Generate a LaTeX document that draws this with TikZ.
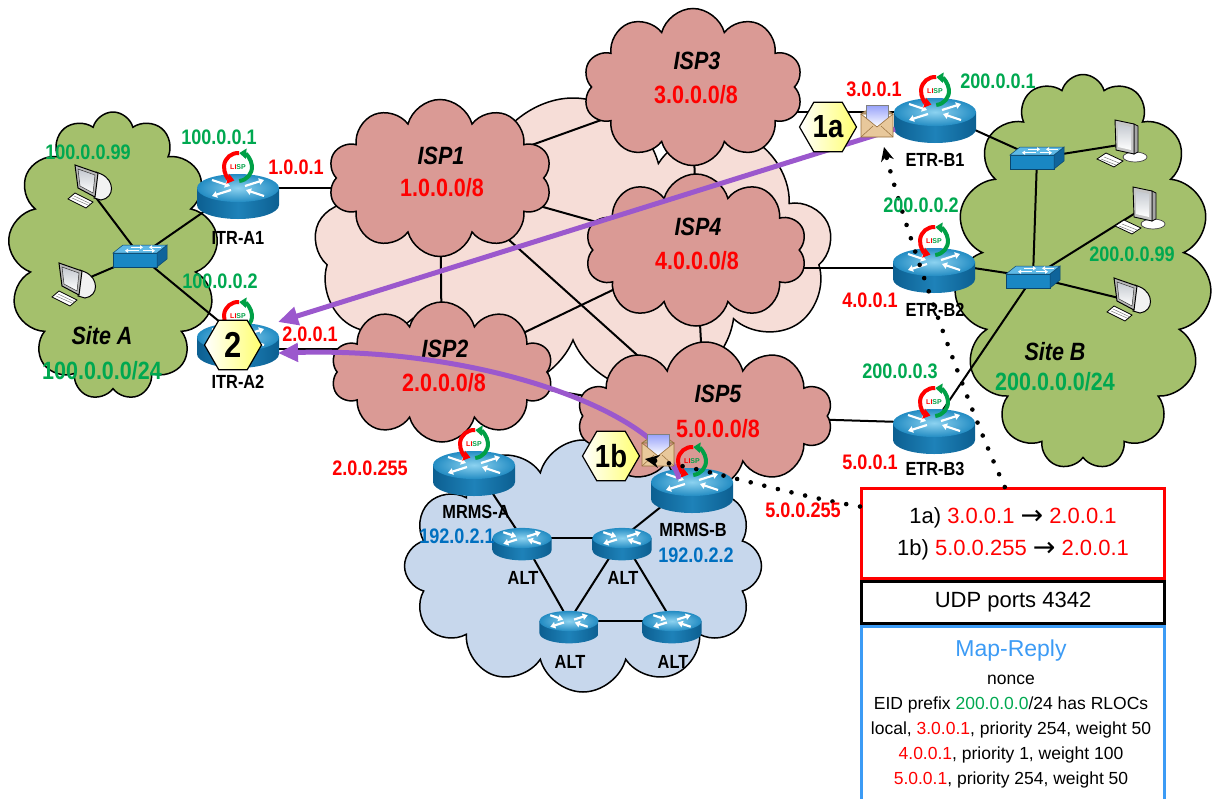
\documentclass[tikz,border=0pt]{standalone}
\usepackage{fontspec}
\setmainfont{Liberation Sans}
\newfontfamily\narr{Liberation Sans}[FakeStretch=0.86]
\newfontfamily\arrowfont{DejaVu Sans}
\usetikzlibrary{shapes.symbols,shapes.geometric,arrows.meta,calc}

\definecolor{sitegreen}{RGB}{164,192,108}
\definecolor{ispred}{RGB}{218,154,149}
\definecolor{corepink}{RGB}{246,221,215}
\definecolor{altblue}{RGB}{199,215,236}
\definecolor{ipgreen}{RGB}{0,168,80}
\definecolor{ipblue}{RGB}{0,112,192}
\definecolor{replyblue}{RGB}{60,155,245}
\definecolor{flowpurple}{RGB}{155,88,205}
\definecolor{rtop}{RGB}{35,140,195}
\definecolor{rtopin}{RGB}{140,210,240}
\definecolor{rside}{RGB}{12,95,145}
\definecolor{rsidemid}{RGB}{30,130,185}
\definecolor{swtop}{RGB}{95,185,230}
\definecolor{swfront}{RGB}{25,135,195}
\definecolor{swside}{RGB}{15,100,155}
\definecolor{swdark}{RGB}{10,70,110}
\definecolor{envbody}{RGB}{232,200,155}
\definecolor{envline}{RGB}{150,110,60}
\definecolor{letterblue}{RGB}{215,230,248}
\definecolor{lispgreen}{RGB}{0,160,70}
\definecolor{hexyellow}{RGB}{255,255,110}
\definecolor{screen}{RGB}{225,232,242}

\newcommand\toarrow{\raisebox{-1.5pt}{\arrowfont\fontsize{27}{27}\selectfont →}}

\tikzset{
  cloudbase/.style={cloud, cloud ignores aspect, draw=black, line width=1.5pt, inner sep=0pt},
  link/.style={line width=2pt, draw=black},
  rarrow/.style={white, line width=2.2pt, -{Triangle[length=5pt,width=6.5pt]}},
  swarrow/.style={white, line width=1.1pt, -{Triangle[length=3pt,width=4pt]}},
  iplbl/.style={font=\narr\bfseries\fontsize{21}{22}\selectfont, inner sep=0pt},
  greenlbl/.style={iplbl, text=ipgreen},
  redlbl/.style={iplbl, text=red},
  bluelbl/.style={iplbl, text=ipblue},
  namelbl/.style={font=\narr\bfseries\fontsize{19}{20}\selectfont, inner sep=0pt},
  isplbl/.style={font=\narr\bfseries\itshape\fontsize{25}{26}\selectfont, inner sep=0pt},
  ispnet/.style={font=\narr\bfseries\fontsize{25}{26}\selectfont, text=red, inner sep=0pt},
  sitenet/.style={font=\narr\bfseries\fontsize{25}{26}\selectfont, text=ipgreen, inner sep=0pt},
  hexa/.style={regular polygon, regular polygon sides=6, draw=black, line width=1.2pt,
    left color=white, right color=hexyellow, inner sep=0pt, minimum size=57pt,
    font=\narr\bfseries\fontsize{32}{32}\selectfont},
  flow/.style={flowpurple, line width=5pt, -{Triangle[length=20pt,width=18pt]}},
  dotflow/.style={black, line width=4.6pt, dash pattern=on 0pt off 14pt, line cap=round,
    -{Stealth[length=14pt,width=13pt]}},
  boxtxt/.style={font=\fontsize{22}{32}\selectfont, align=center, inner sep=0pt},
  replytxt/.style={font=\fontsize{17.5}{20}\selectfont, inner sep=0pt},
  pics/router/.style={code={
    \shade[left color=rside, right color=rside, middle color=rsidemid]
      (-41,0) -- (-41,17) arc[start angle=180,end angle=0,x radius=41,y radius=14] -- (41,0) -- cycle;
    \shade[inner color=rtopin, outer color=rtop] (0,0) ellipse[x radius=41,y radius=14];
    \draw[rarrow] (-26,-8) -- (-8,-2);
    \draw[rarrow] (26,8) -- (8,2);
    \draw[rarrow] (7,-2) -- (26,-8);
    \draw[rarrow] (-7,2) -- (-26,8);
  }},
  pics/lisp/.style={code={
    \draw[red, line width=4pt, -{Triangle[length=7pt,width=10pt]}]
      (275:14) arc[start angle=275,end angle=105,radius=14];
    \draw[lispgreen, line width=4pt, -{Triangle[length=7pt,width=10pt]}]
      (85:14) arc[start angle=85,end angle=-85,radius=14];
    \node[font=\bfseries\fontsize{7}{7}\selectfont, inner sep=0pt]
      {\textcolor{red}{LI}\textcolor{lispgreen}{SP}};
  }},
  pics/lisprouter/.style={code={
    \pic {router};
    \pic at (0,-21) {lisp};
  }},
  pics/switch/.style={code={
    \filldraw[fill=swfront, draw=swdark, line width=0.5pt] (-27,-3) -- (17,-3) -- (17,11) -- (-27,11) -- cycle;
    \filldraw[fill=swside, draw=swdark, line width=0.5pt] (17,-3) -- (27,-11) -- (27,3) -- (17,11) -- cycle;
    \filldraw[fill=swtop, draw=swdark, line width=0.5pt] (-27,-3) -- (-17,-11) -- (27,-11) -- (17,-3) -- cycle;
    \draw[swarrow] (-9,-8.7) -- (3,-8.7);
    \draw[swarrow] (21,-8.7) -- (9,-8.7);
    \draw[swarrow] (-1,-5.3) -- (-15,-5.3);
    \draw[swarrow] (3,-5.3) -- (15,-5.3);
  }},
  % desktop with a tube monitor
  pics/crthost/.style={code={
    \filldraw[fill=white, draw=black, line width=0.8pt] (-20,12) -- (-13,6) -- (5,15) -- (-2,21) -- cycle;
    \draw[gray, line width=0.5pt] (-16,11) -- (0,18) (-14,9) -- (2,16.5);
    \filldraw[fill=gray!10, draw=black, line width=1pt]
      (8,-15) -- (13,-13) .. controls (27,-7) and (27,11) .. (13,13) -- (6,11) -- cycle;
    \filldraw[fill=gray!55, draw=black, line width=1pt] (-13,-22) -- (10,-14) -- (7,10) -- (-10,1) -- cycle;
    \shade[top color=screen!70!gray, bottom color=white] (-10,-18) -- (7,-12) -- (5,6) -- (-8,-1) -- cycle;
    \draw[gray!40!black, line width=0.5pt] (-10,-18) -- (7,-12) -- (5,6) -- (-8,-1) -- cycle;
  }},
  % desktop with a flat panel
  pics/lcdhost/.style={code={
    \filldraw[fill=white, draw=gray!50!black, line width=0.7pt] (16,12) ellipse[x radius=12,y radius=5];
    \filldraw[fill=white, draw=black, line width=0.8pt] (-22,14) -- (-13,8) -- (4,16) -- (-5,22) -- cycle;
    \draw[gray, line width=0.5pt] (-18,14) -- (-3,20) (-15,12) -- (0,18);
    \filldraw[fill=gray!70, draw=black, line width=0.8pt] (15,-21) -- (19,-19) -- (19,7) -- (15,9) -- cycle;
    \filldraw[fill=gray!45, draw=black, line width=0.9pt] (-4,-25) -- (15,-21) -- (15,9) -- (-3,5) -- cycle;
    \shade[top color=screen!70!gray, bottom color=white] (-1,-21) -- (12,-18) -- (12,5) -- (-1,2) -- cycle;
  }},
  pics/envelope/.style={code={
    \filldraw[fill=envbody!80!black, draw=envline, line width=0.6pt] (-16,-11) -- (-12,-14) -- (12,-14) -- (16,-11) -- cycle;
    \shade[top color=letterblue!70!blue, bottom color=white] (-11,-20) rectangle (11,2);
    \draw[gray, line width=0.5pt] (-11,-20) rectangle (11,2);
    \filldraw[fill=envbody, draw=envline, line width=0.6pt] (-16,-11) -- (0,2) -- (16,-11) -- (16,12) -- (-16,12) -- cycle;
    \draw[envline, line width=0.5pt] (-16,12) -- (-4,1) (16,12) -- (4,1);
  }},
}

\begin{document}
\begin{tikzpicture}[x=1pt,y=-1pt]
\useasboundingbox (0,0) rectangle (1214,798);

% ---------- background clouds ----------
\node[cloudbase, fill=sitegreen, cloud puffs=13, minimum width=210pt, minimum height=288pt] (siteA) at (113,256) {};
\node[cloudbase, fill=sitegreen, cloud puffs=15, minimum width=257pt, minimum height=395pt] (siteB) at (1083,272) {};
\node[cloudbase, fill=altblue, cloud puffs=12, minimum width=357pt, minimum height=252pt] (altcloud) at (583,566) {};
\node[cloudbase, fill=corepink, cloud puffs=9, minimum width=517pt, minimum height=302pt] (core) at (573,249) {};

% ---------- positions ----------
\coordinate (isp1) at (440,178);
\coordinate (isp2) at (442,372);
\coordinate (isp3) at (693,87);
\coordinate (isp4) at (696,250);
\coordinate (isp5) at (705,416);

\coordinate (itra1) at (238,188);
\coordinate (itra2) at (238,337);
\coordinate (etrb1) at (935,112);
\coordinate (etrb2) at (934,262);
\coordinate (etrb3) at (934,423);
\coordinate (mrmsa) at (474,465);
\coordinate (mrmsb) at (692,482);
\coordinate (alt1) at (522,538);
\coordinate (alt2) at (622,538);
\coordinate (alt3) at (569,621);
\coordinate (alt4) at (672,621);

\coordinate (swA) at (140,256);
\coordinate (swB1) at (1037,158);
\coordinate (swB2) at (1033,277);
\coordinate (hA1) at (88,187);
\coordinate (hA2) at (72,285);
\coordinate (hB1) at (1119,145);
\coordinate (hB2) at (1137,212);
\coordinate (hB3) at (1127,300);

% ---------- links ----------
\draw[link] (isp1) -- (isp3);
\draw[link] (isp1) -- (isp4);
\draw[link] (isp1) -- (isp5);
\draw[link] (isp1) -- (isp2);
\draw[link] (isp2) -- (isp4);
\draw[link] (isp3) -- (isp4);
\draw[link] (isp4) -- (isp5);
\draw[link] (isp2) -- (isp5);

\draw[link] (itra1) -- (itra1 -| isp1);
\draw[link] ($(itra2)+(0,12)$) -- ($(itra2 -| isp2)+(0,12)$);
\draw[link] (etrb1) -- (etrb1 -| isp3);
\draw[link] ($(etrb2)+(0,6)$) -- ($(etrb2 -| isp4)+(0,6)$);
\draw[link] (etrb3) -- (isp5);

\draw[link] (hA1) -- (swA);
\draw[link] (hA2) -- (swA);
\draw[link] (swA) -- (itra1);
\draw[link] (swA) -- (itra2);

\draw[link] (etrb1) -- (swB1);
\draw[link] (swB1) -- (hB1);
\draw[link] (swB1) -- (swB2);
\draw[link] (swB2) -- (hB2);
\draw[link] (swB2) -- (hB3);
\draw[link] (etrb2) -- (swB2);
\draw[link] (swB2) -- (etrb3);

\draw[link] (mrmsa) -- (alt1);
\draw[link] (alt1) -- (alt2);
\draw[link] (mrmsb) -- (alt2);
\draw[link] (alt1) -- (alt3);
\draw[link] (alt2) -- (alt3);
\draw[link] (alt2) -- (alt4);
\draw[link] (alt3) -- (alt4);

% ---------- provider clouds ----------
\node[cloudbase, fill=ispred, cloud puffs=10, minimum width=224pt, minimum height=157pt] (isp1cloud) at (isp1) {};
\node[cloudbase, fill=ispred, cloud puffs=10, minimum width=222pt, minimum height=140pt] (isp2cloud) at (isp2) {};
\node[cloudbase, fill=ispred, cloud puffs=10, minimum width=220pt, minimum height=157pt] (isp3cloud) at (isp3) {};
\node[cloudbase, fill=ispred, cloud puffs=10, minimum width=222pt, minimum height=152pt] (isp4cloud) at (isp4) {};
\node[cloudbase, fill=ispred, cloud puffs=10, minimum width=255pt, minimum height=148pt] (isp5cloud) at (isp5) {};

\node[isplbl] (isp1name) at (441,156) {ISP1};
\node[ispnet] (isp1net) at (442,188) {1.0.0.0/8};
\node[isplbl] (isp2name) at (445,349) {ISP2};
\node[ispnet] (isp2net) at (444,383) {2.0.0.0/8};
\node[isplbl] (isp3name) at (697,61) {ISP3};
\node[ispnet] (isp3net) at (696,95) {3.0.0.0/8};
\node[isplbl] (isp4name) at (698,227) {ISP4};
\node[ispnet] (isp4net) at (697,261) {4.0.0.0/8};
\node[isplbl] (isp5name) at (718,394) {ISP5};
\node[ispnet] (isp5net) at (718,429) {5.0.0.0/8};

% ---------- devices ----------
\pic at (hA1) {crthost};
\pic at (hA2) {crthost};
\pic at (hB1) {lcdhost};
\pic at (hB2) {lcdhost};
\pic at (hB3) {crthost};
\pic at (swA) {switch};
\pic at (swB1) {switch};
\pic at (swB2) {switch};

\pic at (itra1) {lisprouter};
\pic at (itra2) {lisprouter};
\pic at (etrb1) {lisprouter};
\pic at (etrb2) {lisprouter};
\pic at (etrb3) {lisprouter};
\pic at (mrmsa) {lisprouter};
\pic at (mrmsb) {lisprouter};
\pic[scale=0.72] at (alt1) {router};
\pic[scale=0.72] at (alt2) {router};
\pic[scale=0.72] at (alt3) {router};
\pic[scale=0.72] at (alt4) {router};

% ---------- message boxes ----------
\node[draw=red, line width=3pt, minimum width=303pt, minimum height=90pt, anchor=north west,
      boxtxt] (boxaddr) at (860,487)
  {1a) \textcolor{red}{3.0.0.1} \toarrow{} \textcolor{red}{2.0.0.1}\\
   1b) \textcolor{red}{5.0.0.255} \toarrow{} \textcolor{red}{2.0.0.1}};
\node[draw=black, line width=3pt, minimum width=303pt, minimum height=42pt, anchor=north west,
      boxtxt] (boxudp) at (860,580) {UDP ports 4342};
\node[draw=replyblue, line width=3pt, minimum width=303pt, minimum height=190pt, anchor=north west]
  (boxreply) at (860,625) {};
\node[font=\fontsize{23}{24}\selectfont, text=replyblue, inner sep=0pt] (replytitle) at (1011,651) {Map-Reply};
\node[replytxt] (rl1) at (1011,680) {nonce};
\node[replytxt] (rl2) at (1011,705) {EID prefix \textcolor{ipgreen}{200.0.0.0}/24 has RLOCs};
\node[replytxt] (rl3) at (1011,730) {local, \textcolor{red}{3.0.0.1}, priority 254, weight 50};
\node[replytxt] (rl4) at (1011,755) {\textcolor{red}{4.0.0.1}, priority 1, weight 100};
\node[replytxt] (rl5) at (1011,780) {\textcolor{red}{5.0.0.1}, priority 254, weight 50};

% ---------- reply flows ----------
\coordinate (r1start) at (895,129);
\coordinate (r2start) at (679,479);
\coordinate (a2top) at (278,322);
\coordinate (a2mid) at (278,353);
\draw[flow] (r1start) -- (a2top);
\draw[flow] (r2start) .. controls (662,412) and (482,347) .. (a2mid);

\coordinate (envB1) at (877,125);
\coordinate (envMB) at (658,454);
\pic at (envB1) {envelope};
\pic at (envMB) {envelope};

\coordinate (b1tip) at (884,147);
\coordinate (mbtip) at (645,459);
\draw[dotflow] (boxaddr.100) .. controls (965,400) and (905,230) .. (b1tip);
\draw[dotflow] (boxaddr.170) .. controls (790,495) and (720,472) .. (mbtip);

\node[hexa] (hex1a) at (828,127) {1a};
\node[hexa] (hex2) at (233,345) {\fontsize{36}{36}\selectfont 2};
\node[hexa] (hex1b) at (611,456) {1b};

% ---------- labels ----------
\node[greenlbl] at (88,152) {100.0.0.99};
\node[greenlbl] at (219,137) {100.0.0.1};
\node[redlbl] at (296,167) {1.0.0.1};
\node[greenlbl] at (220,281) {100.0.0.2};
\node[redlbl] at (310,334) {2.0.0.1};
\node[namelbl] at (238,238) {ITR-A1};
\node[namelbl] at (238,382) {ITR-A2};
\node[isplbl] at (102,336) {Site A};
\node[sitenet] at (102,371) {100.0.0.0/24};

\node[redlbl] at (874,89) {3.0.0.1};
\node[greenlbl] at (998,81) {200.0.0.1};
\node[namelbl] at (935,160) {ETR-B1};
\node[greenlbl] at (921,205) {200.0.0.2};
\node[redlbl] at (870,300) {4.0.0.1};
\node[namelbl] at (935,310) {ETR-B2};
\node[greenlbl] at (1132,254) {200.0.0.99};
\node[isplbl] at (1055,352) {Site B};
\node[sitenet] at (1055,382) {200.0.0.0/24};
\node[greenlbl] at (900,371) {200.0.0.3};
\node[redlbl] at (870,462) {5.0.0.1};
\node[namelbl] at (935,469) {ETR-B3};

\node[redlbl] at (370,468) {2.0.0.255};
\node[redlbl] at (803,510) {5.0.0.255};
\node[namelbl] at (476,512) {MRMS-A};
\node[bluelbl] at (457,536) {192.0.2.1};
\node[namelbl] at (693,530) {MRMS-B};
\node[bluelbl] at (696,555) {192.0.2.2};
\node[namelbl] at (523,578) {ALT};
\node[namelbl] at (623,578) {ALT};
\node[namelbl] at (570,662) {ALT};
\node[namelbl] at (673,662) {ALT};
\end{tikzpicture}
\end{document}
